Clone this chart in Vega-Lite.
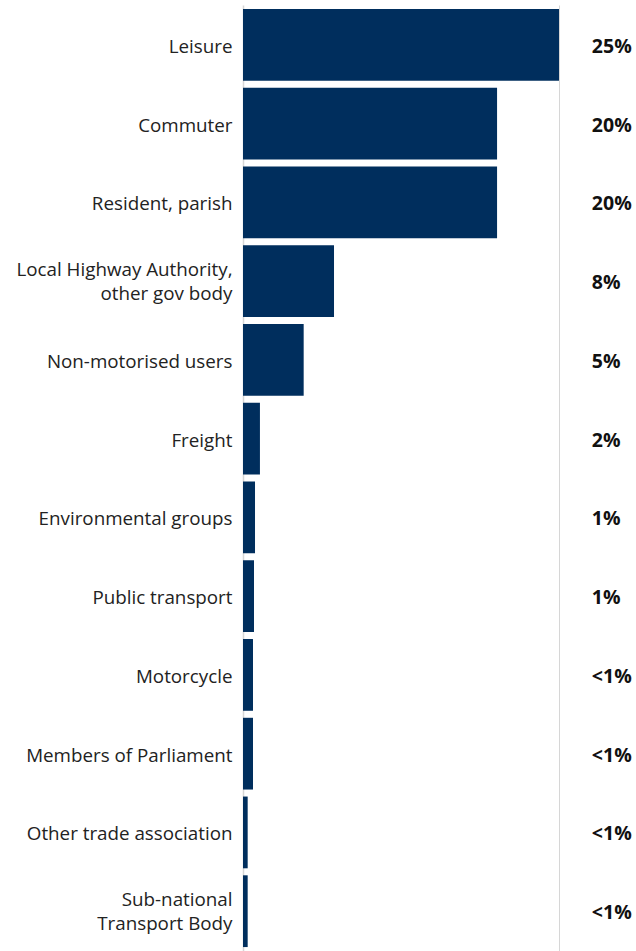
{
  "$schema": "https://vega.github.io/schema/vega-lite/v6.json",
  "autosize": {"type": "none"},
  "padding": {"left": 243, "top": 5, "right": 77, "bottom": 0},
  "width": 316,
  "height": 946,
  "background": "white",
  "config": {"view": {"stroke": null}, "font": "Open Sans"},
  "data": {
    "values": [
      {"group": "Leisure", "value": 25, "label": "25%"},
      {"group": "Commuter", "value": 20.1, "label": "20%"},
      {"group": "Resident, parish", "value": 20.1, "label": "20%"},
      {"group": "Local Highway Authority,|other gov body", "value": 7.2, "label": "8%"},
      {"group": "Non-motorised users", "value": 4.8, "label": "5%"},
      {"group": "Freight", "value": 1.34, "label": "2%"},
      {"group": "Environmental groups", "value": 0.95, "label": "1%"},
      {"group": "Public transport", "value": 0.87, "label": "1%"},
      {"group": "Motorcycle", "value": 0.79, "label": "<1%"},
      {"group": "Members of Parliament", "value": 0.79, "label": "<1%"},
      {"group": "Other trade association", "value": 0.37, "label": "<1%"},
      {"group": "Sub-national|Transport Body", "value": 0.37, "label": "<1%"}
    ]
  },
  "encoding": {
    "y": {
      "field": "group",
      "type": "nominal",
      "sort": null,
      "scale": {"paddingInner": 0.089, "paddingOuter": 0.05},
      "axis": {
        "title": null,
        "ticks": false,
        "labelPadding": 11,
        "labelFont": "Open Sans",
        "labelFontSize": 18.8,
        "labelColor": "#222222",
        "labelLineHeight": 24,
        "labelExpr": "split(datum.label, '|')",
        "labelOffset": {"condition": {"test": "indexof(datum.label, '|') >= 0", "value": -11}, "value": 2},
        "domainColor": "#d6d6d6",
        "domainWidth": 1.5,
        "labelLimit": 300
      }
    }
  },
  "layer": [
    {
      "mark": {"type": "bar", "color": "#002e5d"},
      "encoding": {
        "x": {
          "field": "value",
          "type": "quantitative",
          "scale": {"domain": [0, 25], "nice": false},
          "axis": {
            "title": null,
            "labels": false,
            "ticks": false,
            "domain": false,
            "grid": true,
            "values": [25],
            "gridColor": "#d6d6d6",
            "gridWidth": 1
          }
        }
      }
    },
    {
      "mark": {"type": "text", "align": "left", "baseline": "middle", "dy": 2, "font": "Open Sans", "fontWeight": "bold", "fontSize": 19.5, "color": "#111111"},
      "encoding": {
        "x": {"datum": 27.6, "type": "quantitative"},
        "text": {"field": "label"}
      }
    }
  ]
}
